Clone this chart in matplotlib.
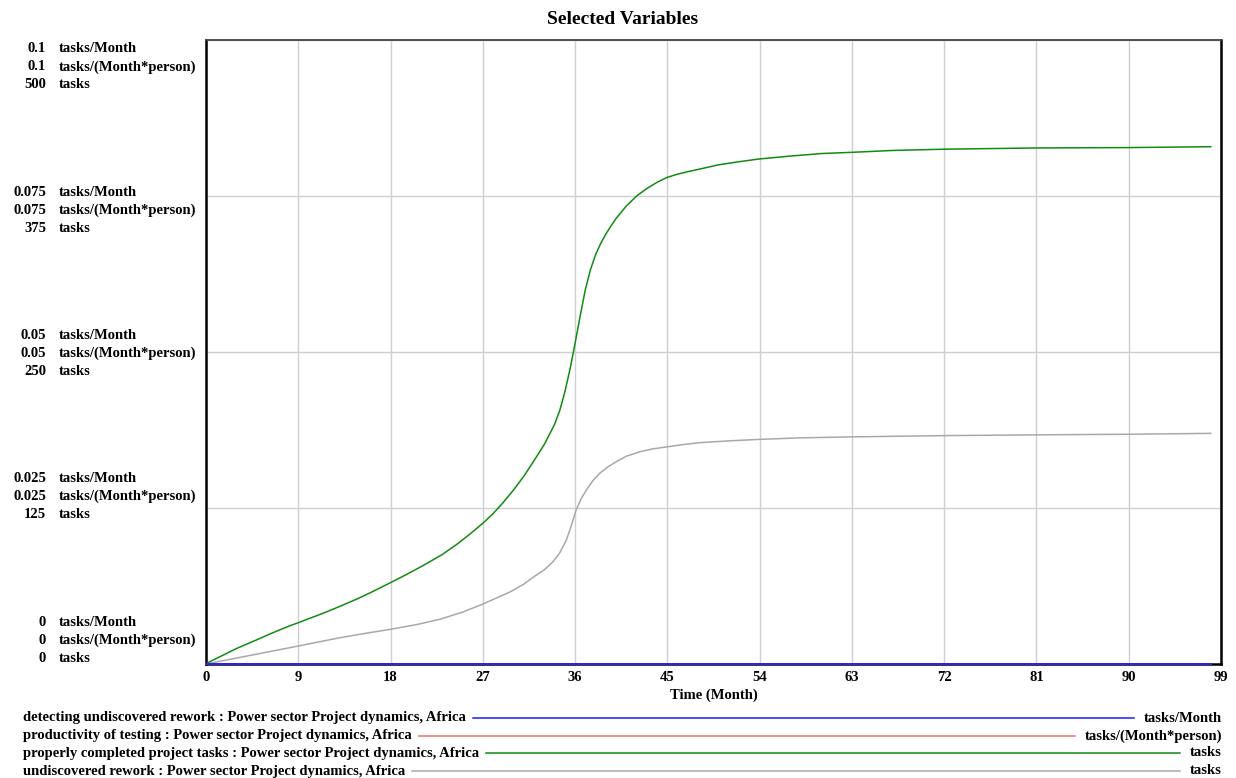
import matplotlib
matplotlib.use("Agg")
import matplotlib.pyplot as plt
from matplotlib.lines import Line2D

# ---- data ----
time_completed = [0, 0.4, 1.7, 3, 4.9, 6.5, 8.2, 9, 11.4, 13, 14.7, 16, 18, 19.5, 21.2, 23,
                  24.4, 25.5, 27, 28, 29, 30, 31, 32, 33, 34, 34.5, 35, 35.5, 36, 36.5, 37,
                  37.5, 38, 38.5, 39, 39.5, 40, 41, 42, 43, 44, 45, 46, 47, 48, 50, 52, 54,
                  57, 60, 63, 67, 72, 81, 90, 98]
properly_completed = [0, 2, 7.2, 12.5, 19.2, 25, 30.7, 33.1, 40.6, 46, 52, 57, 65.2, 71.5,
                      79, 87.5, 95.5, 102.5, 112.7, 120.5, 129.5, 139.5, 150.5, 163, 176, 192,
                      203, 218, 236, 257, 279, 300, 316, 328, 337, 344.5, 351, 357, 367,
                      375, 381, 386, 390, 392.5, 394.5, 396.3, 400, 402.5, 404.7, 407, 409,
                      410, 411.5, 412.5, 413.5, 413.8, 414.5]

time_rework = [0, 2, 4.5, 7, 9, 11, 13.1, 15.5, 18, 20.5, 22.8, 25, 27, 28.3, 29.6, 31, 32,
               33, 33.85, 34.5, 35.15, 35.6, 36.1, 36.6, 37.1, 37.7, 38.4, 39.2, 40, 41,
               42.3, 43.5, 45, 46.5, 48.1, 51, 54, 58, 63, 72, 81, 90, 98]
undiscovered_rework = [0, 3.2, 7.2, 11.2, 14.4, 17.7, 21.1, 24.5, 27.8, 31.5, 35.8, 41.5,
                       48, 52.8, 57.5, 64, 70, 75.5, 82, 89, 99.4, 110, 123.4, 132.5, 139.4,
                       146.5, 152.8, 158, 162, 166.5, 170, 172.3, 174, 175.8, 177.3, 178.8,
                       180, 181.2, 182, 183, 183.6, 184.1, 184.8]

time_rates = [0, 98]
detecting_rework = [0, 0]        # tasks/Month
productivity_testing = [0, 0]    # tasks/(Month*person)

x_ticks = list(range(0, 100, 9))
tick_tasks = [500, 375, 250, 125, 0]
tick_rate = ["0.1", "0.075", "0.05", "0.025", "0"]
tick_prod = ["0.1", "0.075", "0.05", "0.025", "0"]

series_names = [
    "detecting undiscovered rework : Power sector Project dynamics, Africa",
    "productivity of testing : Power sector Project dynamics, Africa",
    "properly completed project tasks : Power sector Project dynamics, Africa",
    "undiscovered rework : Power sector Project dynamics, Africa",
]
series_units = ["tasks/Month", "tasks/(Month*person)", "tasks", "tasks"]
series_colors = ["#1a1aff", "#f07070", "#138a13", "#a8a8a8"]

# ---- figure ----
W, H = 1236, 778
FONT = "Liberation Serif"
fig = plt.figure(figsize=(W / 100, H / 100), dpi=100)
ax = fig.add_axes([206 / W, 1 - 664 / H, (1221 - 206) / W, (664 - 40) / H])

rate_max = 0.1
prod_max = 0.1
task_max = 500

ax.plot(time_rework, undiscovered_rework, color=series_colors[3], lw=1.1, zorder=3)
ax.plot(time_completed, properly_completed, color=series_colors[2], lw=1.1, zorder=3)
ax.plot(time_rates, [v / prod_max * task_max for v in productivity_testing],
        color=series_colors[1], lw=1.3, zorder=4, clip_on=False)
ax.plot(time_rates, [v / rate_max * task_max for v in detecting_rework],
        color=series_colors[0], lw=1.3, zorder=5, clip_on=False)

ax.set_xlim(0, 99)
ax.set_ylim(0, task_max)
ax.set_xticks(x_ticks)
ax.set_yticks(tick_tasks)
ax.set_yticklabels([])
ax.grid(True, color="#cfcfcf", lw=1.0)
ax.set_axisbelow(True)
ax.tick_params(length=0, pad=5)
for lab in ax.get_xticklabels():
    lab.set_fontfamily(FONT)
    lab.set_fontweight("bold")
    lab.set_fontsize(10.5)
ax.set_xlabel("Time (Month)", fontfamily=FONT, fontweight="bold", fontsize=10.5, labelpad=3)

for side in ("left", "right", "bottom"):
    ax.spines[side].set_color("black")
    ax.spines[side].set_linewidth(1.8)
ax.spines["top"].set_color("#444444")
ax.spines["top"].set_linewidth(1.3)

fig.text(0.504, 1 - 19 / H, "Selected Variables", ha="center", va="center",
         fontfamily=FONT, fontweight="bold", fontsize=14)

# ---- stacked scale labels on the left ----
txt_kw = dict(fontfamily=FONT, fontweight="bold", fontsize=10.5)
top_mid, bot_mid = 67, 640
n = len(tick_tasks)
for i in range(n):
    mid = top_mid + i * (bot_mid - top_mid) / (n - 1)
    rows = [(tick_rate[i], "tasks/Month"),
            (tick_prod[i], "tasks/(Month*person)"),
            (str(tick_tasks[i]), "tasks")]
    for j, (num, unit) in enumerate(rows):
        y = 1 - (mid + (j - 1) * 18) / H
        fig.text(46 / W, y, num, ha="right", va="center", **txt_kw)
        fig.text(59 / W, y, unit, ha="left", va="center", **txt_kw)

# ---- legend rows below the plot ----
fig.canvas.draw()
renderer = fig.canvas.get_renderer()
legend_y = [718, 736, 753, 771]
for name, unit, color, ypx in zip(series_names, series_units, series_colors, legend_y):
    y = 1 - ypx / H
    t_name = fig.text(23 / W, y, name, ha="left", va="center", **txt_kw)
    t_unit = fig.text(1222 / W, y, unit, ha="right", va="center", **txt_kw)
    bb_name = t_name.get_window_extent(renderer)
    bb_unit = t_unit.get_window_extent(renderer)
    x0 = (bb_name.x1 + 7) / W
    x1 = (bb_unit.x0 - 10) / W
    fig.add_artist(Line2D([x0, x1], [y, y], transform=fig.transFigure,
                          color=color, lw=1.1))

fig.savefig("out.png", dpi=100, facecolor="white")
